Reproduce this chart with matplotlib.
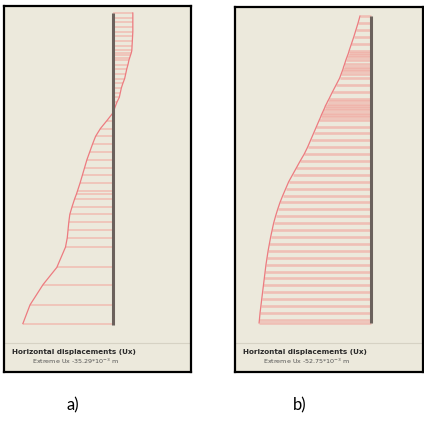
import matplotlib.pyplot as plt

# Panel a) - depth (m) and horizontal displacement Ux (mm) at each hatch line
depth_a = [0.0, -0.3, -0.6, -0.9, -1.2, -1.5, -1.8, -2.1, -2.4, -2.55, -2.7, -2.85,
           -3.0, -3.3, -3.6, -3.9, -4.2, -4.5, -4.8, -5.1, -5.4, -5.7, -6.0, -6.4,
           -6.9, -7.4, -7.9, -8.4, -8.9, -9.4, -9.9, -10.4, -10.9, -11.4, -11.6,
           -11.9, -12.4, -12.9, -13.4, -13.9, -14.4, -15.0, -16.3, -17.4, -18.7, -19.9]
ux_a = [7.8, 7.8, 7.8, 7.8, 7.8, 7.7, 7.6, 7.5, 7.4, 7.2, 6.9, 6.6,
        6.3, 5.9, 5.4, 5.0, 4.6, 3.9, 3.3, 2.9, 2.5, 1.6, 0.9, 0.0,
        -2.4, -4.9, -6.8, -8.0, -9.1, -10.2, -11.1, -12.0, -12.9, -13.9, -14.3,
        -15.0, -16.0, -16.9, -17.3, -17.6, -17.9, -18.6, -22.0, -27.4, -32.5, -35.3]

# Panel b)
depth_b = [0.0, -0.45, -0.9, -1.35, -1.8, -2.25, -2.4, -2.55, -2.7, -2.85, -3.15,
           -3.3, -3.45, -3.6, -3.75, -4.05, -4.5, -4.95, -5.4, -5.55, -5.7, -5.85,
           -6.0, -6.15, -6.3, -6.45, -6.6, -6.75, -7.2, -7.65, -8.1, -8.55, -9.0,
           -9.45, -9.9, -10.35, -10.8, -11.25, -11.7, -12.15, -12.6, -13.05, -13.5,
           -13.95, -14.4, -14.85, -15.3, -15.75, -16.2, -16.65, -17.1, -17.55, -18.0,
           -18.45, -18.9, -19.35, -19.8, -20.0]
ux_b = [-5.2, -6.1, -7.1, -8.1, -9.2, -10.3, -10.6, -11.0, -11.4, -11.8, -12.5,
        -12.9, -13.2, -13.6, -14.0, -14.8, -16.5, -18.2, -19.8, -20.4, -20.9, -21.5,
        -21.9, -22.4, -22.9, -23.4, -23.8, -24.3, -25.7, -27.1, -28.5, -29.9, -31.5,
        -33.4, -35.2, -37.0, -38.8, -40.2, -41.6, -42.9, -44.0, -45.0, -45.9,
        -46.6, -47.3, -47.9, -48.5, -49.0, -49.5, -49.9, -50.3, -50.7, -51.1,
        -51.5, -51.9, -52.3, -52.6, -52.75]

wall_depth = [0.0, -20.0]
captions = ["Horizontal displacements (Ux)", "Horizontal displacements (Ux)"]
extremes = ["Extreme Ux -35.29*10$^{-3}$ m", "Extreme Ux -52.75*10$^{-3}$ m"]

bg = '#ece9dc'
hatch = '#f2a49c'
curve = '#ec7b80'
wall = '#6b615c'

fig = plt.figure(figsize=(4.24, 4.30), dpi=100)

panels = [
    (depth_a, ux_a, [4 / 424, 58 / 430, 187 / 424, 366 / 430], (-42.7, 30.6), (-23.0, 0.45), 0, 1.2, 0.6),
    (depth_b, ux_b, [235 / 424, 58 / 430, 188 / 424, 365 / 430], (-64.1, 24.5), (-23.2, 0.59), 1, 1.9, 0.6),
]

for depth, ux, pos, xl, yl, i, lw, al in panels:
    ax = fig.add_axes(pos)
    ax.set_facecolor(bg)
    ax.hlines(depth, 0, ux, color=hatch, lw=lw, alpha=al)
    ax.plot(ux, depth, color=curve, lw=0.9)
    ax.plot([0, 0], wall_depth, color=wall, lw=2.2, solid_capstyle='butt')
    ax.set_xlim(*xl)
    ax.set_ylim(*yl)
    ax.set_xticks([])
    ax.set_yticks([])
    for s in ax.spines.values():
        s.set_color('black')
        s.set_linewidth(1.6)
    ax.plot([0, 1], [0.079, 0.079], transform=ax.transAxes, color='#d6d2c4', lw=0.8)
    ax.text(0.045, 0.055, captions[i], transform=ax.transAxes, fontsize=5.2,
            fontweight='bold', color='#2a2a2a', va='center', ha='left')
    ax.text(0.15, 0.03, extremes[i], transform=ax.transAxes, fontsize=4.6,
            color='#555555', va='center', ha='left')

fig.text(73 / 424, 1 - 405 / 430, 'a)', fontsize=12, family='Lato', ha='center', va='center')
fig.text(300 / 424, 1 - 405 / 430, 'b)', fontsize=12, family='Lato', ha='center', va='center')

fig.savefig('out.png', dpi=100)
